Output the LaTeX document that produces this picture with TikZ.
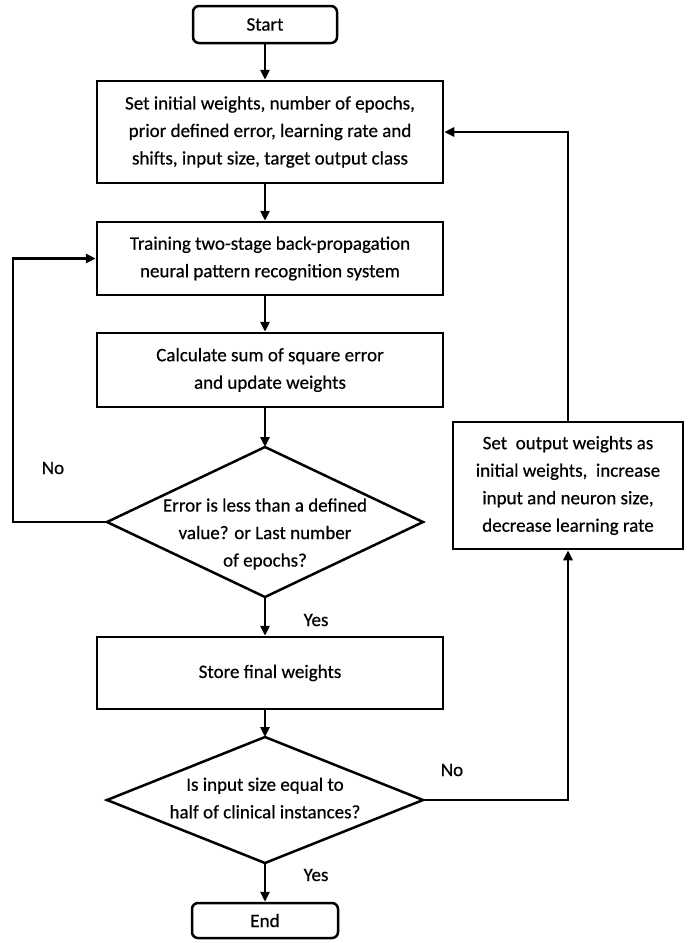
\documentclass[tikz,border=0pt]{standalone}
\usepackage{fontspec}
\setmainfont{Carlito}
\newfontfamily\chartfont{Carlito}[FakeBold=0.5]
\usetikzlibrary{arrows.meta,shapes.geometric}
\begin{document}
\begin{tikzpicture}[x=1pt,y=-1pt,
  txt/.style={font=\chartfont\fontsize{19}{27.5}\selectfont, align=center},
  box/.style={txt, draw, line width=2.5pt, minimum width=346pt, inner sep=0pt},
  terminal/.style={box, rounded corners=6pt, minimum width=144pt, minimum height=37pt},
  decision/.style={draw, diamond, line width=2.5pt, inner sep=0pt, outer sep=0pt},
  arr/.style={line width=2.5pt, -{Triangle[length=10pt,width=9pt]}}]
\useasboundingbox (0,0) rectangle (689,943);

% main column
\node[terminal] (start) at (265,24.5) {Start};
\node[box, minimum height=102pt] (b1) at (270,132)
  {Set initial weights, number of epochs,\\prior defined error, learning rate and\\shifts, input size, target output class};
\node[box, minimum height=73pt] (b2) at (270,258.5)
  {Training two-stage back-propagation\\neural pattern recognition system};
\node[box, minimum height=74pt] (b3) at (270,370)
  {Calculate sum of square error\\and update weights};
\node[decision, minimum width=316pt, minimum height=150pt] (d1) at (265,522) {};
\node[txt] (d1t) at (265,534) {Error is less than a defined\\value? or Last number\\of epochs?};
\node[box, minimum height=72pt] (b4) at (270,673) {Store final weights};
\node[decision, minimum width=316pt, minimum height=126pt] (d2) at (265,800) {};
\node[txt] (d2t) at (265,798) {Is input size equal to\\half of clinical instances?};
\node[terminal, minimum height=35pt, minimum width=146pt] (end) at (265,920.5) {End};

% side box
\node[box, minimum width=230pt, minimum height=127pt] (rb) at (568,485.5)
  {Set\ \ output weights as\\initial weights,\ \ increase\\input and neuron size,\\decrease learning rate};

% branch labels
\node[txt] (no1) at (53,468) {No};
\node[txt] (yes1) at (316,620) {Yes};
\node[txt] (no2) at (452,770) {No};
\node[txt] (yes2) at (316,875) {Yes};

\coordinate (lx) at (13,0);

% connectors
\draw[arr] (start.south) -- (start.south |- b1.north);
\draw[arr] (start.south |- b1.south) -- (start.south |- b2.north);
\draw[arr] (start.south |- b2.south) -- (start.south |- b3.north);
\draw[arr] (start.south |- b3.south) -- (d1.north);
\draw[arr] (d1.south) -- (d1.south |- b4.north);
\draw[arr] (d2.north |- b4.south) -- (d2.north);
\draw[arr] (d2.south) -- (end.north);
\draw[arr] (d1.west) -- (d1.west -| lx) |- (b2.west);
\draw[arr] (d2.east) -| (rb.south);
\draw[arr] (rb.north) |- (b1.east);
\end{tikzpicture}
\end{document}
